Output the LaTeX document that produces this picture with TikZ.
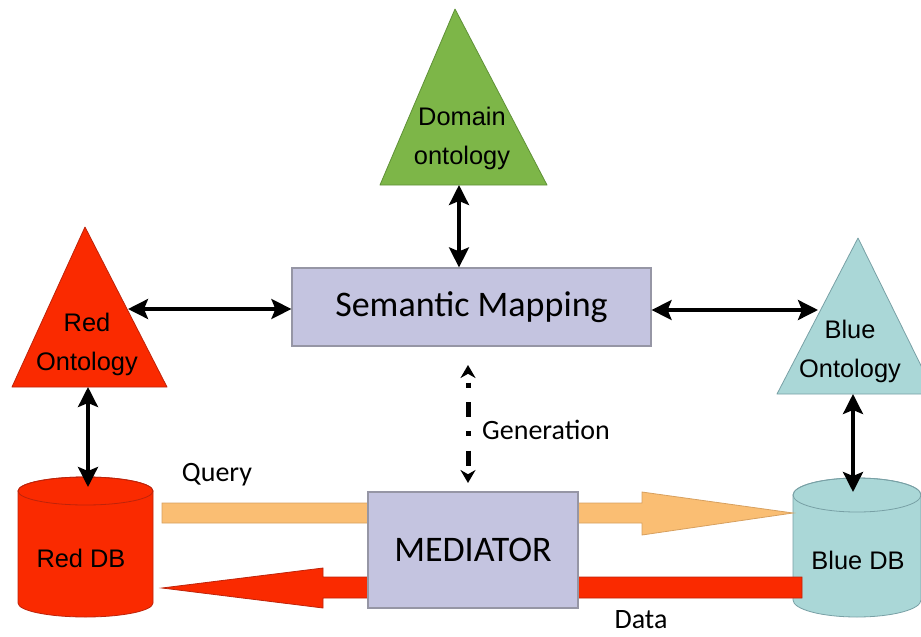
\documentclass[tikz,border=0pt]{standalone}
\usepackage{fontspec}
\newfontfamily\arialf{Liberation Sans}
\newfontfamily\calibrif{Carlito}
\usepackage{xcolor}
\usetikzlibrary{arrows.meta,positioning,calc}

\definecolor{ontored}{RGB}{250,42,0}
\definecolor{rededge}{RGB}{190,35,10}
\definecolor{ontogreen}{RGB}{125,182,72}
\definecolor{greenedge}{RGB}{95,145,55}
\definecolor{ontoblue}{RGB}{170,215,215}
\definecolor{blueedge}{RGB}{120,160,165}
\definecolor{boxlav}{RGB}{196,196,224}
\definecolor{boxedge}{RGB}{150,150,165}
\definecolor{queryorange}{RGB}{250,190,115}
\definecolor{queryedge}{RGB}{215,160,95}

\begin{document}
\begin{tikzpicture}[
  x=1pt, y=-1pt,
  >={Stealth[length=20pt,width=20pt,inset=4pt]},
  onto/.style={line width=0.8pt, line join=round},
  ontolabel/.style={font=\arialf\fontsize{25.4pt}{39pt}\selectfont,
    align=center, inner sep=0pt},
  dblabel/.style={font=\arialf\fontsize{25.4pt}{30pt}\selectfont, inner sep=0pt},
  procbox/.style={rectangle, draw=boxedge, fill=boxlav, line width=1.2pt,
    inner sep=0pt, font=\calibrif\fontsize{36pt}{40pt}\selectfont},
  flowlabel/.style={font=\calibrif\fontsize{28pt}{30pt}\selectfont, inner sep=0pt},
  link/.style={<->, line width=3.5pt, black},
  genlink/.style={{Stealth[length=13pt,width=15pt]}-{Stealth[length=13pt,width=15pt]},
    line width=5pt, dash pattern=on 15pt off 14pt on 5pt off 14.5pt, dash phase=19.5pt},
  query/.style={fill=queryorange, draw=queryedge, line width=0.8pt},
  data/.style={fill=ontored, draw=rededge, line width=0.8pt},
]
\useasboundingbox (0,0) rectangle (921,637);

% ========= Ontologies (triangles) =========
\draw[onto, fill=ontogreen, draw=greenedge] (380,185) -- (455,9) -- (547,185) -- cycle;
\draw[onto, fill=ontored, draw=rededge] (12,387) -- (85,227) -- (167,387) -- cycle;
\draw[onto, fill=ontoblue, draw=blueedge] (777,394) -- (858,238) -- (935,394) -- cycle;

\node[ontolabel] at (462,138) (dom) {Domain\\ontology};
\node[ontolabel] at (87,344) (ro) {Red\\Ontology};
\node[ontolabel] at (850,351) (bo) {Blue\\Ontology};

\coordinate (dom-base) at (459,185);
\coordinate (ro-edge) at (128,309);
\coordinate (ro-base) at (88,387);
\coordinate (bo-edge) at (818,310);
\coordinate (bo-base) at (853,394);

% ========= Databases (cylinders) =========
\draw[fill=ontored, draw=rededge, line width=0.8pt]
  (18,491) -- (18,603) arc[start angle=180, end angle=360, x radius=67.5pt, y radius=14pt]
  -- (153,491) arc[start angle=0, end angle=180, x radius=67.5pt, y radius=14pt] -- cycle;
\draw[draw=rededge, line width=0.8pt] (85.5,491) ellipse[x radius=67.5pt, y radius=14pt];
\draw[fill=ontoblue, draw=blueedge, line width=0.8pt]
  (793,495) -- (793,600) arc[start angle=180, end angle=360, x radius=64pt, y radius=17pt]
  -- (921,495) arc[start angle=0, end angle=180, x radius=64pt, y radius=17pt] -- cycle;
\draw[draw=blueedge, line width=0.8pt] (857,495) ellipse[x radius=64pt, y radius=17pt];

\node[dblabel] at (81,558) (rdb) {Red DB};
\node[dblabel] at (858,560) (bdb) {Blue DB};

\coordinate (rdb-top) at (88,487);
\coordinate (bdb-top) at (853,492);

% ========= Query / Data flows =========
\coordinate (q-start) at (162,513);
\coordinate (q-end) at (793,513);
\coordinate (d-start) at (802,588);
\coordinate (d-end) at (162,588);

\draw[query] ([yshift=10pt]q-start) -- ++(480,0) -- ++(0,-11) -- (q-end)
  -- ++(-151,22) -- ++(0,-12) -- ++(-480,0) -- cycle;
\draw[data] ([yshift=11pt]d-start) -- ++(-479,0) -- ++(0,-9) -- (d-end)
  -- ++(161,20) -- ++(0,-10) -- ++(479,0) -- cycle;

% ========= Processing boxes =========
\node[procbox, minimum width=359pt, minimum height=78pt] at (471.5,307) (sm) {Semantic Mapping};
\node[procbox, minimum width=210pt, minimum height=116pt] at (473,550) (med) {MEDIATOR};

% ========= Links =========
\draw[link] (dom-base) -- (dom-base |- sm.north);
\draw[link] (ro-edge) -- (sm.west |- ro-edge);
\draw[link] (sm.east |- bo-edge) -- (bo-edge);
\draw[link] (ro-base) -- (rdb-top);
\draw[link] (bo-base) -- (bdb-top);

\coordinate (gen-top) at (468,365);
\coordinate (gen-bot) at (468,483);
\draw[genlink] (gen-top) -- (gen-bot);

% ========= Flow labels =========
\node[flowlabel] at (217,475) (lblquery) {Query};
\node[flowlabel, anchor=west] at (482,430) (lblgen) {Generation};
\node[flowlabel] at (641,620) (lbldata) {Data};

\end{tikzpicture}
\end{document}
